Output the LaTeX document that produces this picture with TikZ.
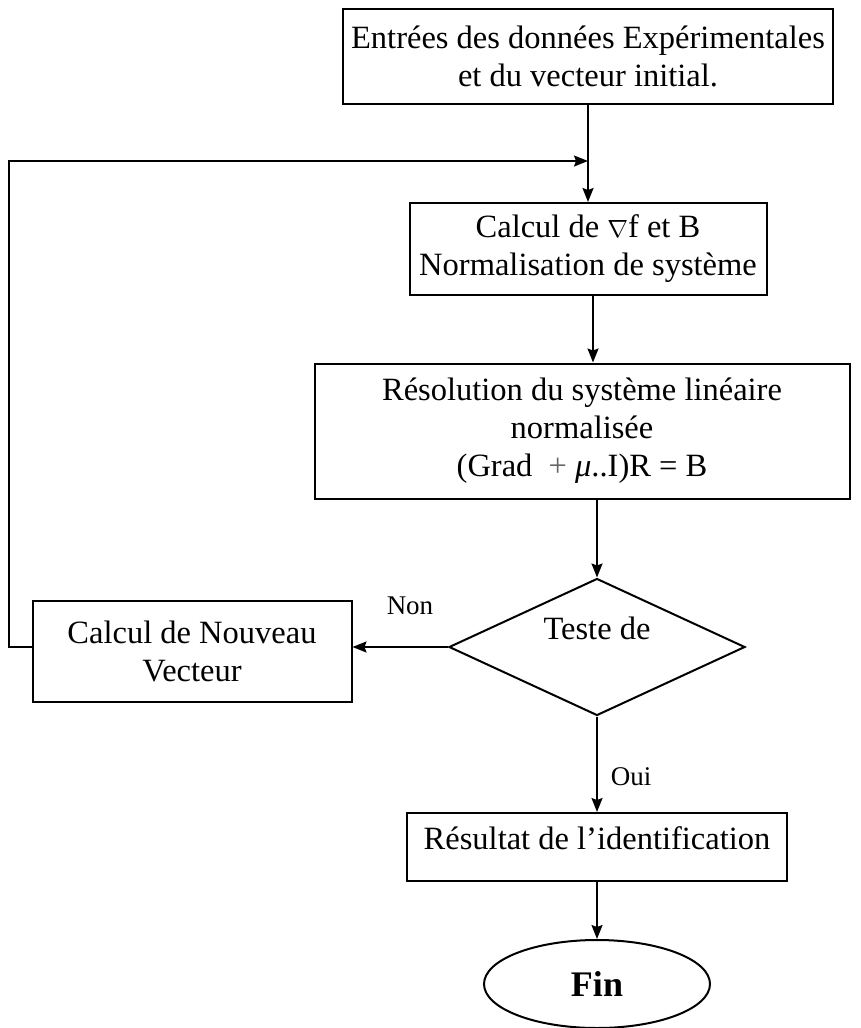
\documentclass[tikz,border=0pt]{standalone}
\usepackage{fontspec}
\setmainfont{Liberation Serif}
\usetikzlibrary{shapes.geometric,arrows.meta,calc}
\begin{document}
\begin{tikzpicture}[x=1pt,y=-1pt,
  font=\fontsize{32.5}{38}\selectfont,
  box/.style={draw,line width=2pt,align=center,inner sep=0pt},
  flow/.style={line width=1.8pt,-{Stealth[length=14pt,width=11pt,inset=2pt]}},
  plain/.style={line width=1.8pt},
  lbl/.style={font=\fontsize{27}{30}\selectfont}]
\useasboundingbox (0,0) rectangle (861,1028);

% process steps
\node[box,minimum width=490,minimum height=95] (in) at (588,56)
  {Entrées des données Expérimentales\\et du vecteur initial.};
\node[box,minimum width=357,minimum height=92] (grad) at (588,249)
  {Calcul de $\nabla$f et B\\Normalisation de système};
\node[box,minimum width=535,minimum height=135] (sys) at (582,431)
  {Résolution du système linéaire\\normalisée\\ (Grad \ {\color{black!60}+} {\itshape μ}..I)R = B};
\node[draw,line width=2pt,diamond,minimum width=296,minimum height=137,inner sep=0pt] (test) at (597,647) {};
\node at (597,628) {Teste de};
\node[box,minimum width=319,minimum height=101] (nv) at (192,651)
  {Calcul de Nouveau\\Vecteur};
\node[box,minimum width=380,minimum height=68] (res) at (597,847) {};
\node at (597,838) {Résultat de l’identification};
\node[draw,line width=2pt,ellipse,minimum width=226,minimum height=88,inner sep=0pt,
  font=\fontsize{36}{40}\selectfont\bfseries] (fin) at (597,984) {Fin};

% junction where the loop re-enters the main flow
\coordinate (join) at (588,161);
\coordinate (corner) at (9,161);

\draw[plain] (in.south -| join) -- (join);
\draw[flow] (join) -- (grad.north -| join);
\draw[flow] (grad.south -| 593,0) -- (sys.north -| 593,0);
\draw[flow] (sys.south -| test.north) -- (test.north);
\draw[flow] (test.west) -- (test.west -| nv.east);
\draw[flow] (test.south) -- (res.north -| test.south);
\draw[flow] (res.south -| fin.north) -- (fin.north);
\draw[flow] (test.west -| nv.west) -- (test.west -| corner) -- (corner) -- (join);

% branch labels
\node[lbl] at (410,606) {Non};
\node[lbl] at (631,777) {Oui};
\end{tikzpicture}
\end{document}
